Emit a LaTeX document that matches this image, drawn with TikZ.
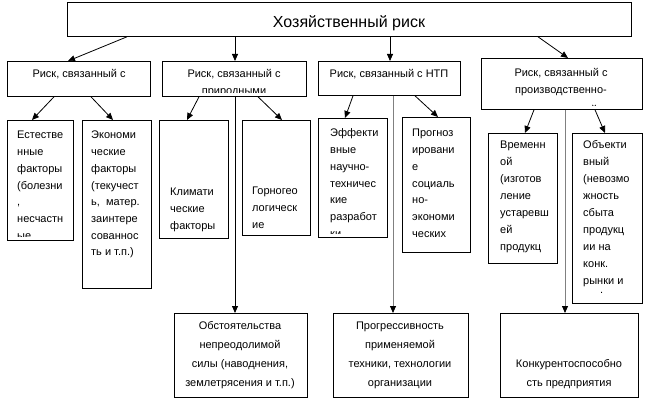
\documentclass[tikz,border=0pt]{standalone}
\usepackage{fontspec}
\setmainfont{Liberation Sans}
\usetikzlibrary{arrows.meta,calc}
\newcommand\bx[5]{\node[box,minimum width=#4pt,minimum height=#5pt] (#1) at (#2,#3) {};}
\newcommand\lnsL[5]{\foreach \t [count=\i from 0] in {#5} \node[txt,anchor=base west] (#1-\i) at (#2,{#3+\i*#4}) {\t};}
\newcommand\lnsC[5]{\foreach \t [count=\i from 0] in {#5} \node[txt,anchor=base] (#1-\i) at (#2,{#3+\i*#4}) {\t};}
\newcommand\clipin[1]{\clip (#1.north west) rectangle ($(#1.south east)+(0,-4)$);}
\begin{document}
\begin{tikzpicture}[x=1pt,y=-1pt,
  box/.style={draw,line width=0.8pt,inner sep=0pt,anchor=north west},
  txt/.style={inner sep=0pt,font=\fontsize{11}{13}\selectfont},
  arr/.style={line width=0.8pt,-{Triangle[length=7pt,width=6pt,color=black]}},
  garr/.style={arr,draw=black!50}]
\useasboundingbox (0,0) rectangle (648,406);
% boxes
\bx{top}{67}{2}{564}{34}
\bx{A}{7}{61}{143}{35}
\bx{B}{162}{61}{144}{35}
\bx{C}{318}{61}{142}{34}
\bx{D}{481}{58}{161}{51}
\bx{est}{7}{120}{66}{120}
\bx{econ}{82}{120}{69}{168}
\bx{klim}{159}{120}{69}{118}
\bx{gorn}{242}{120}{68}{115}
\bx{eff}{318}{118}{69}{119}
\bx{prog}{402}{117}{68}{135}
\bx{vrem}{488}{133}{69}{130}
\bx{obj}{572}{133}{70}{170}
\bx{fm}{174}{313}{133}{84}
\bx{prg}{333}{313}{135}{84}
\bx{konk}{500}{313}{138}{84}
% texts
\node[txt,font=\fontsize{16}{19}\selectfont,anchor=base] (title) at (349,28) {Хозяйственный риск};
\lnsC{tA}{79}{78}{17}{{Риск, связанный с}}
\begin{scope}\clipin{B}\lnsC{tB}{234}{78}{16.5}{{Риск, связанный с},{природными}}\end{scope}
\lnsC{tC}{389}{78}{17}{{Риск, связанный с НТП}}
\lnsC{tD}{561}{77}{17}{{Риск, связанный с},{производственно-}}
\begin{scope}\clipin{D}\node[txt,anchor=base] (tD-2) at (561,114) {коммерческой};\end{scope}
\begin{scope}\clipin{est}\lnsL{tE}{17}{139}{16.7}{{Естестве},{нные},{факторы},{(болезни},{,},{несчастн},{ые}}\end{scope}
\begin{scope}\clipin{econ}\lnsL{tEc}{91}{139}{16.7}{{Экономи},{ческие},{факторы},{(текучест},{ь,\ \ матер.},{заинтере},{сованнос},{ть и т.п.)}}\end{scope}
\lnsL{tK}{170}{196}{17}{{Климати},{ческие},{факторы}}
\lnsL{tG}{252}{195}{17}{{Горногео},{логическ},{ие}}
\begin{scope}\clipin{eff}\lnsL{tEf}{330}{137}{16.7}{{Эффекти},{вные},{научно-},{техничес},{кие},{разработ},{ки}}\end{scope}
\lnsL{tP}{412}{137}{16.7}{{Прогноз},{ировани},{е},{социаль},{но-},{экономи},{ческих}}
\lnsL{tV}{500}{149}{17}{{Временн},{ой},{(изготов},{ление},{устаревш},{ей},{продукц}}
\lnsL{tO}{583}{149}{16.9}{{Объекти},{вный},{(невозмо},{жность},{сбыта},{продукц},{ии на},{конк.},{рынки и}}
\node[txt,anchor=base west] (tOdot) at (600,294) {.};
\lnsC{tF}{240}{329}{19}{{Обстоятельства},{непреодолимой},{силы (наводнения,},{землетрясения и т.п.)}}
\lnsC{tPr}{400}{329}{19}{{Прогрессивность},{применяемой},{техники, технологии},{организации}}
\lnsC{tKk}{569}{367}{19}{{Конкурентоспособно},{сть предприятия}}
% connectors
\draw[arr] ($(top.south west)+(60,0)$) -- ($(A.north west)+(61,0)$);
\draw[arr] ($(top.south west)+(168,0)$) -- ($(B.north west)+(73,0)$);
\draw[arr] ($(top.south west)+(323,0)$) -- ($(C.north west)+(72,0)$);
\draw[arr] ($(top.south west)+(471,0)$) -- ($(D.north west)+(87,0)$);
\draw[arr] ($(A.south west)+(47,0)$) -- ($(est.north west)+(25,0)$);
\draw[arr] ($(A.south west)+(84,0)$) -- ($(econ.north west)+(31,0)$);
\draw[arr] ($(B.south west)+(37,0)$) -- ($(klim.north west)+(28,0)$);
\draw[arr] ($(B.south west)+(96,0)$) -- ($(gorn.north west)+(40,0)$);
\draw[arr] ($(C.south west)+(35,0)$) -- ($(eff.north west)+(27,0)$);
\draw[arr] ($(C.south west)+(97,0)$) -- ($(prog.north west)+(36,0)$);
\draw[arr] ($(D.south west)+(53,0)$) -- ($(vrem.north west)+(37,0)$);
\draw[arr] ($(D.south west)+(114,0)$) -- ($(obj.north west)+(33,0)$);
\draw[arr] ($(B.south west)+(73,0)$) -- ($(fm.north west)+(61,0)$);
\draw[garr] ($(C.south west)+(75,0)$) -- ($(prg.north west)+(60,0)$);
\draw[garr] ($(D.south west)+(84,0)$) -- ($(konk.north west)+(65,0)$);
\end{tikzpicture}
\end{document}
